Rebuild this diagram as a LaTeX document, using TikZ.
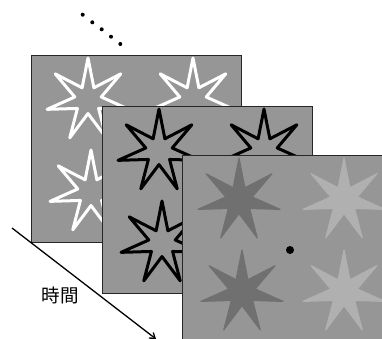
\documentclass[tikz,border=0pt]{standalone}
\usepackage{fontspec}
\newfontfamily\jpfont{Noto Sans CJK JP}
\usetikzlibrary{arrows.meta, shapes.geometric}
\definecolor{panelgray}{RGB}{150,150,150}
\definecolor{stardark}{RGB}{112,112,112}
\definecolor{starlight}{RGB}{176,176,176}

\begin{document}
\begin{tikzpicture}[x=1pt, y=-1pt,
  panel/.style={draw=black!85, fill=panelgray, line width=0.8pt, minimum width=210pt, minimum height=187pt, inner sep=0pt, anchor=north west},
  starbase/.style={star, star points=7, star point ratio=3.1, minimum size=84pt, inner sep=0pt, line join=round},
  outlinestar/.style={starbase, draw=#1, line width=3pt},
  filledstar/.style={starbase, draw=#1, fill=#1, line width=1.2pt},
  dotmark/.style={circle, fill=black, inner sep=0pt, minimum size=#1},
  arr/.style={-{Straight Barb[length=5pt, width=7pt]}, line width=1.3pt}]

  \clip (0,0) rectangle (382,339);
  \fill[white] (0,0) rectangle (382,339);

  \foreach \i/\px/\py in {1/82.7/14.7, 2/92.3/22.3, 3/101.7/29.3, 4/111/36.7, 5/120.3/44}
    \node[dotmark=4pt] (dot\i) at (\px,\py) {};

  \node[panel] (panelA) at (31,55) {};
  \begin{scope}[shift={(31,55)}]
    \node[outlinestar=white] (starA1) at (57,45) {};
    \node[outlinestar=white] (starA2) at (162,45) {};
    \node[outlinestar=white] (starA3) at (60,137) {};
    \node[outlinestar=white] (starA4) at (162,137) {};
  \end{scope}

  \node[panel] (panelB) at (102,106) {};
  \begin{scope}[shift={(102,106)}]
    \node[outlinestar=black] (starB1) at (57,45) {};
    \node[outlinestar=black] (starB2) at (162,45) {};
    \node[outlinestar=black] (starB3) at (60,137) {};
    \node[outlinestar=black] (starB4) at (162,137) {};
  \end{scope}

  \node[panel] (panelC) at (182,155) {};
  \begin{scope}[shift={(182,155)}]
    \node[filledstar=stardark] (starC1) at (57,45) {};
    \node[filledstar=starlight] (starC2) at (162,45) {};
    \node[filledstar=stardark] (starC3) at (60,137) {};
    \node[filledstar=starlight] (starC4) at (162,137) {};
  \end{scope}
  \node[dotmark=8pt] (fix) at (290,250) {};

  \coordinate (tstart) at (12,228);
  \coordinate (tend) at (156,339);
  \draw[arr] (tstart) -- (tend);
  \node[font=\jpfont\fontsize{18.5}{20}\selectfont] (timelbl) at (60,295) {時間};
\end{tikzpicture}
\end{document}
